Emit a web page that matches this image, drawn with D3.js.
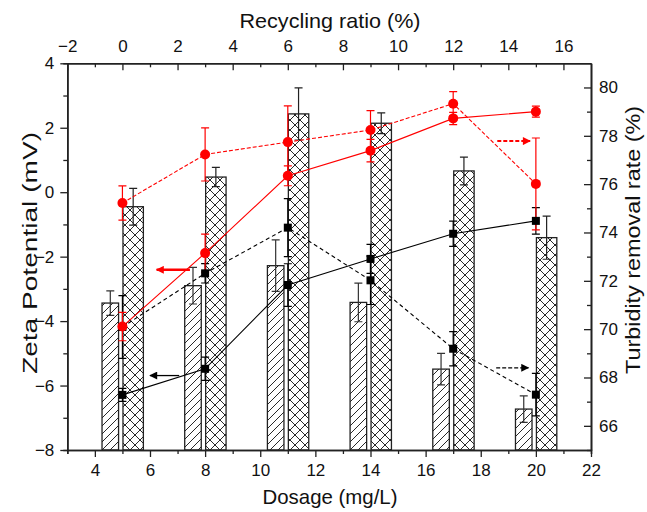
<!DOCTYPE html>
<html>
<head>
<meta charset="utf-8">
<script src="https://cdn.jsdelivr.net/npm/d3@7"></script>
<style>
  body { margin: 0; background: #fff; }
  svg text { font-family: "Liberation Sans", Arial, sans-serif; fill: #111; }
</style>
</head>
<body>
<svg id="chart"></svg>
<script>
// values
const dosage = [5, 8, 11, 14, 17, 20];
const recycling = [0, 3, 6, 9, 12, 15];

const zetaBlack = [-6.29, -5.48, -2.88, -2.07, -1.29, -0.89];
const zetaBlackErr = [0.2, 0.36, 0.66, 0.45, 0.39, 0.41];
const zetaRed = [-4.17, -1.89, 0.51, 1.29, 2.29, 2.5];
const zetaRedErr = [0.44, 0.59, 0.31, 0.35, 0.19, 0.17];

const removalBlack = [70.09, 72.31, 74.2, 72.02, 69.19, 67.29];
const removalBlackErr = [1.3, 0.4, 1.2, 1.0, 0.71, 0.88];
const removalRed = [75.22, 77.23, 77.74, 78.24, 79.33, 76.01];
const removalRedErr = [0.71, 1.1, 1.5, 0.8, 0.5, 1.9];

const barHatch = [-3.44, -2.9, -2.28, -3.42, -5.49, -6.73];
const barHatchErr = [0.38, 0.57, 0.8, 0.6, 0.49, 0.41];
const barCross = [-0.45, 0.47, 2.43, 2.14, 0.66, -1.41];
const barCrossErr = [0.57, 0.3, 0.81, 0.32, 0.43, 0.67];

const bottomTicks = [4, 6, 8, 10, 12, 14, 16, 18, 20, 22];
const topTicks = [-2, 0, 2, 4, 6, 8, 10, 12, 14, 16];
const leftTicks = [4, 2, 0, -2, -4, -6, -8];
const rightTicks = [66, 68, 70, 72, 74, 76, 78, 80];

const width = 647, height = 512;
const plot = {left: 67.3, right: 591, top: 63.3, bottom: 450};
const red = '#ff0000';

const svg = d3.select('#chart').attr('width', width).attr('height', height);

const x = d3.scaleLinear().domain([3, 22]).range([plot.left, plot.right]);
const xTop = d3.scaleLinear().domain([-2, 17]).range([plot.left, plot.right]);
const y = d3.scaleLinear().domain([-8, 4]).range([plot.bottom, plot.top]);
const yRight = d3.scaleLinear().domain([65, 81]).range([plot.bottom, plot.top]);

// patterns
const defs = svg.append('defs');
const hatch = defs.append('pattern').attr('id', 'hatch')
  .attr('patternUnits', 'userSpaceOnUse').attr('width', 8).attr('height', 8);
hatch.append('path').attr('d', 'M-2,2 L2,-2 M0,8 L8,0 M6,10 L10,6')
  .attr('stroke', '#111').attr('stroke-width', 0.9);
const cross = defs.append('pattern').attr('id', 'cross')
  .attr('patternUnits', 'userSpaceOnUse').attr('width', 10).attr('height', 10);
cross.append('path').attr('d', 'M0,0 L10,10 M10,0 L0,10 M-1,1 L1,-1 M9,11 L11,9 M-1,9 L1,11 M9,-1 L11,1')
  .attr('stroke', '#111').attr('stroke-width', 0.9);

['arrowBlack', 'arrowRed'].forEach((id, i) => {
  defs.append('marker').attr('id', id)
    .attr('viewBox', '0 0 10 10').attr('refX', 9).attr('refY', 5)
    .attr('markerUnits', 'userSpaceOnUse')
    .attr('markerWidth', 13).attr('markerHeight', 8)
    .attr('orient', 'auto')
    .append('path').attr('d', 'M0,0 L10,5 L0,10 Z')
    .attr('fill', i ? red : '#000');
});

// bars
const hatchOffset = [-0.74, -0.14];
const crossOffset = [0.02, 0.76];
const barData = dosage.map((d, i) => ({d, hatch: barHatch[i], hatchErr: barHatchErr[i], cross: barCross[i], crossErr: barCrossErr[i]}));

const gBars = svg.append('g');
gBars.selectAll('.hatch').data(barData).join('rect')
  .attr('class', 'hatch')
  .attr('x', b => x(b.d + hatchOffset[0]))
  .attr('width', b => x(b.d + hatchOffset[1]) - x(b.d + hatchOffset[0]))
  .attr('y', b => y(b.hatch))
  .attr('height', b => y(-8) - y(b.hatch))
  .attr('fill', 'url(#hatch)').attr('stroke', '#222').attr('stroke-width', 1.3);
gBars.selectAll('.cross').data(barData).join('rect')
  .attr('class', 'cross')
  .attr('x', b => x(b.d + crossOffset[0]))
  .attr('width', b => x(b.d + crossOffset[1]) - x(b.d + crossOffset[0]))
  .attr('y', b => y(b.cross))
  .attr('height', b => y(-8) - y(b.cross))
  .attr('fill', 'url(#cross)').attr('stroke', '#222').attr('stroke-width', 1.3);

function errorBars(g, pts, color, cap) {
  const eg = g.append('g').attr('stroke', color).attr('stroke-width', 1.2).attr('fill', 'none');
  eg.selectAll('path').data(pts).join('path')
    .attr('d', p => `M${p.px},${p.y0}V${p.y1}M${p.px - cap},${p.y0}H${p.px + cap}M${p.px - cap},${p.y1}H${p.px + cap}`);
}

errorBars(gBars, barData.map(b => ({px: x(b.d + (hatchOffset[0] + hatchOffset[1]) / 2), y0: y(b.hatch + b.hatchErr), y1: y(b.hatch - b.hatchErr)})), '#333', 4);
errorBars(gBars, barData.map(b => ({px: x(b.d + (crossOffset[0] + crossOffset[1]) / 2), y0: y(b.cross + b.crossErr), y1: y(b.cross - b.crossErr)})), '#222', 4);

// line series
const series = [
  {vals: zetaBlack, errs: zetaBlackErr, xs: dosage, sx: x, sy: y, color: '#000', dash: null, shape: 'square'},
  {vals: removalBlack, errs: removalBlackErr, xs: recycling, sx: xTop, sy: yRight, color: '#000', dash: '4,3', shape: 'square'},
  {vals: zetaRed, errs: zetaRedErr, xs: dosage, sx: x, sy: y, color: red, dash: null, shape: 'circle'},
  {vals: removalRed, errs: removalRedErr, xs: recycling, sx: xTop, sy: yRight, color: red, dash: '4,2', shape: 'circle'}
];

const gLines = svg.append('g');
series.forEach(s => {
  const pts = s.vals.map((v, i) => ({x: s.xs[i], v, e: s.errs[i]}));
  const line = d3.line().x(p => s.sx(p.x)).y(p => s.sy(p.v));
  gLines.append('path').datum(pts)
    .attr('d', line)
    .attr('fill', 'none').attr('stroke', s.color).attr('stroke-width', 1.1)
    .attr('stroke-dasharray', s.dash);
  errorBars(gLines, pts.map(p => ({px: s.sx(p.x), y0: s.sy(p.v + p.e), y1: s.sy(p.v - p.e)})), s.color, 4);
  s.pts = pts;
});
series.forEach(s => {
  if (s.shape === 'square') {
    gLines.append('g').selectAll('rect').data(s.pts).join('rect')
      .attr('x', p => s.sx(p.x) - 4).attr('y', p => s.sy(p.v) - 4)
      .attr('width', 8).attr('height', 8).attr('fill', s.color);
  } else {
    gLines.append('g').selectAll('circle').data(s.pts).join('circle')
      .attr('cx', p => s.sx(p.x)).attr('cy', p => s.sy(p.v))
      .attr('r', 5).attr('fill', s.color);
  }
});

// arrows pointing to each series' axis
const arrows = [
  {x0: x(7.45), x1: x(6.24), y: y(-2.41), color: red, dash: null, w: 2.5, m: 'arrowRed'},
  {x0: x(7.06), x1: x(6.0), y: y(-5.69), color: '#000', dash: null, w: 1.3, m: 'arrowBlack'},
  {x0: xTop(13.6), x1: xTop(14.79), y: yRight(77.78), color: red, dash: '4,2', w: 2, m: 'arrowRed'},
  {x0: xTop(13.56), x1: xTop(14.73), y: yRight(68.4), color: '#000', dash: '4,2', w: 1.2, m: 'arrowBlack'}
];
svg.append('g').selectAll('line').data(arrows).join('line')
  .attr('x1', a => a.x0).attr('x2', a => a.x1)
  .attr('y1', a => a.y).attr('y2', a => a.y)
  .attr('stroke', a => a.color).attr('stroke-width', a => a.w)
  .attr('stroke-dasharray', a => a.dash)
  .attr('marker-end', a => `url(#${a.m})`);

// axes
const odd = (a, b) => d3.range(a, b + 1).filter(v => Math.abs(v % 2) === 1);

function styleAxis(g) {
  g.selectAll('path.domain').attr('stroke', '#222').attr('stroke-width', 1.6);
  g.selectAll('.tick line').attr('stroke', '#222').attr('stroke-width', 1.3);
  g.selectAll('.tick text').attr('font-size', 17).attr('fill', '#111');
}

const axB = svg.append('g').attr('transform', `translate(0,${plot.bottom})`)
  .call(d3.axisBottom(x).tickValues(bottomTicks).tickSize(7).tickSizeOuter(0).tickPadding(7).tickFormat(d3.format('d')));
svg.append('g').attr('transform', `translate(0,${plot.bottom})`)
  .call(d3.axisBottom(x).tickValues(odd(3, 21)).tickSize(4).tickFormat('')).call(styleAxis);
styleAxis(axB);

const axT = svg.append('g').attr('transform', `translate(0,${plot.top})`)
  .call(d3.axisTop(xTop).tickValues(topTicks).tickSizeInner(-7).tickSizeOuter(0).tickPadding(11.5).tickFormat(d3.format('d')));
svg.append('g').attr('transform', `translate(0,${plot.top})`)
  .call(d3.axisTop(xTop).tickValues(odd(-1, 15)).tickSizeInner(-4).tickSizeOuter(0).tickFormat('')).call(styleAxis);
styleAxis(axT);

const axL = svg.append('g').attr('transform', `translate(${plot.left},0)`)
  .call(d3.axisLeft(y).tickValues(leftTicks).tickSize(7).tickSizeOuter(0).tickPadding(6).tickFormat(d3.format('d')));
svg.append('g').attr('transform', `translate(${plot.left},0)`)
  .call(d3.axisLeft(y).tickValues(odd(-7, 3)).tickSize(4).tickFormat('')).call(styleAxis);
styleAxis(axL);

const axR = svg.append('g').attr('transform', `translate(${plot.right},0)`)
  .call(d3.axisRight(yRight).tickValues(rightTicks).tickSizeInner(-7).tickSizeOuter(0).tickPadding(8).tickFormat(d3.format('d')));
svg.append('g').attr('transform', `translate(${plot.right},0)`)
  .call(d3.axisRight(yRight).tickValues(odd(65, 79)).tickSizeInner(-4).tickSizeOuter(0).tickFormat('')).call(styleAxis);
styleAxis(axR);

// axis titles
svg.append('text').attr('x', 330).attr('y', 504).attr('text-anchor', 'middle')
  .attr('font-size', 21).attr('textLength', 135).attr('lengthAdjust', 'spacingAndGlyphs')
  .text('Dosage (mg/L)');
svg.append('text').attr('x', 330).attr('y', 28).attr('text-anchor', 'middle')
  .attr('font-size', 21).attr('textLength', 181).attr('lengthAdjust', 'spacingAndGlyphs')
  .text('Recycling  ratio (%)');
svg.append('text').attr('transform', 'translate(37,253) rotate(-90)').attr('text-anchor', 'middle')
  .attr('font-size', 20).attr('textLength', 242).attr('lengthAdjust', 'spacingAndGlyphs')
  .text('Zeta Potential (mV)');
svg.append('text').attr('transform', 'translate(640,240) rotate(-90)').attr('text-anchor', 'middle')
  .attr('font-size', 20).attr('textLength', 268).attr('lengthAdjust', 'spacingAndGlyphs')
  .text('Turbidity removal rate (%)');
</script>
</body>
</html>
